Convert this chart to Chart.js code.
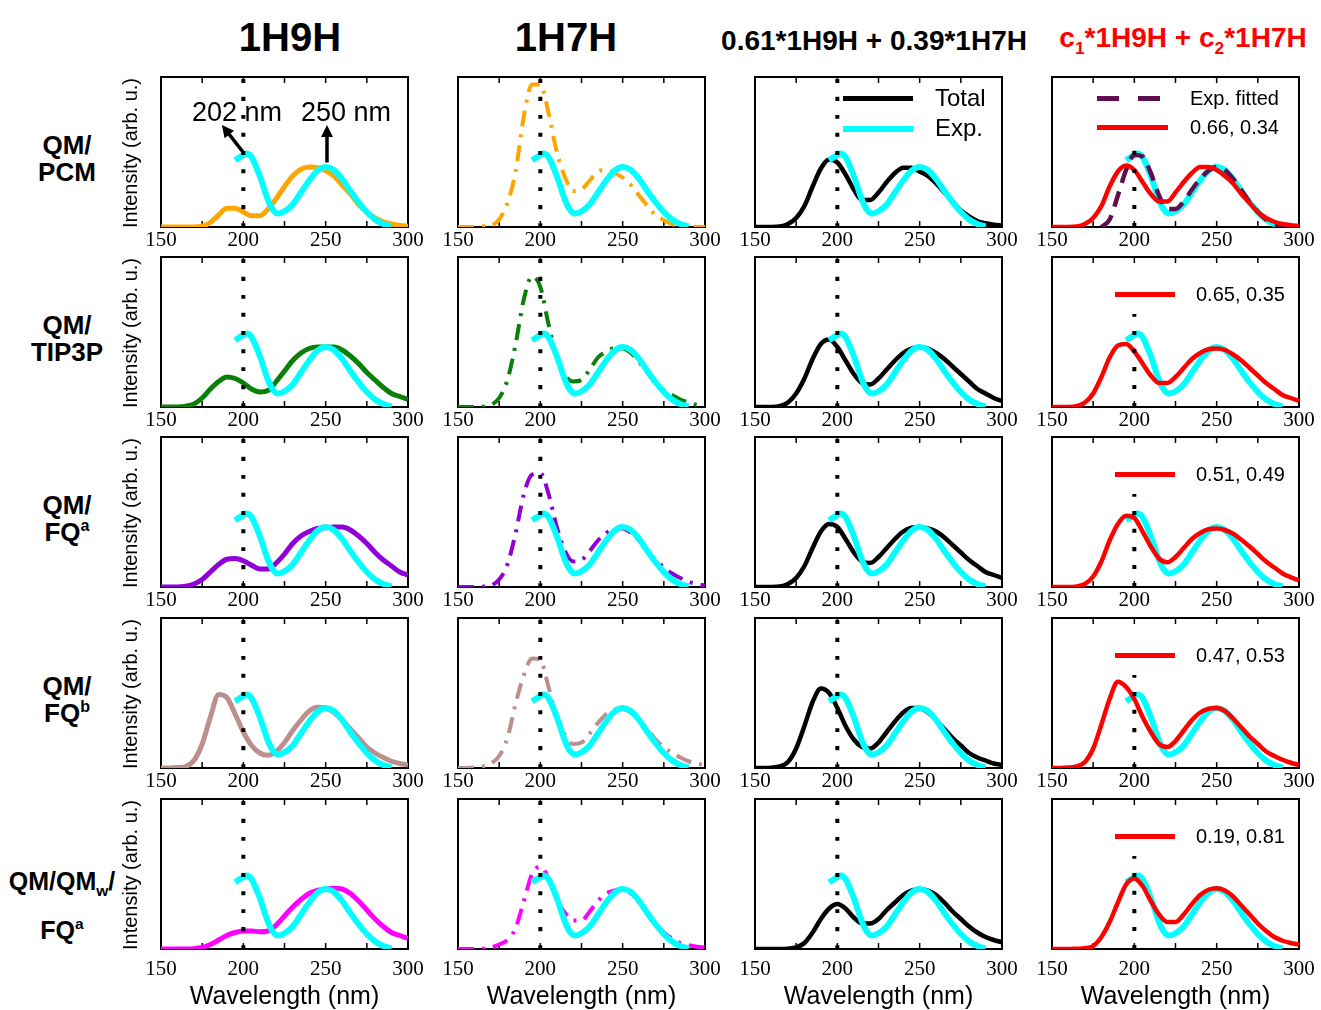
<!DOCTYPE html>
<html>
<head>
<meta charset="utf-8">
<script src="https://cdn.jsdelivr.net/npm/chart.js@4.4.0/dist/chart.umd.min.js"></script>
<style>
  body { margin: 0; background: #fff; width: 1321px; height: 1010px; position: relative; overflow: hidden;
         font-family: "Liberation Sans", Arial, sans-serif; color: #000; }
  canvas { position: absolute; }
  .t { position: absolute; white-space: nowrap; line-height: 1; }
  .c { transform: translate(-50%, -50%); }
  .l { transform: translate(0, -50%); }
  .rot { transform: translate(-50%, -50%) rotate(-90deg); }
  sub, sup { font-size: 62%; line-height: 0; }
</style>
</head>
<body>
<script>
// wavelength grid (nm) for the computed spectra
const wl = [150,155,160,165,170,175,180,185,190,195,200,205,210,215,220,225,230,235,240,245,250,255,260,265,270,275,280,285,290,295,300];

// experimental spectrum (cyan)
const expWl   = [195,200,202,205,210,215,218,221,225,230,235,240,245,250,255,260,265,270,275,280,285,290];
const expVals = [0.445,0.48,0.49,0.465,0.34,0.18,0.115,0.09,0.105,0.15,0.23,0.31,0.375,0.40,0.38,0.32,0.24,0.165,0.10,0.05,0.02,0.005];

// fitted experimental spectrum (dashed, top right panel)
const expFitWl   = [180,185,190,195,200,205,210,215,220,225,230,235,240,245,250,255,260,265,270,275,280,285,290,295];
const expFitVals = [0,0.05,0.21,0.38,0.48,0.47,0.36,0.21,0.12,0.12,0.17,0.25,0.32,0.375,0.40,0.38,0.32,0.245,0.165,0.10,0.05,0.02,0.008,0];

// 1H9H tautomer
const pcm9 = [0,0,0,0,0,0.005,0.03,0.08,0.125,0.125,0.10,0.075,0.075,0.12,0.19,0.27,0.34,0.385,0.40,0.395,0.375,0.34,0.28,0.22,0.15,0.10,0.06,0.035,0.02,0.01,0.005];
const tip9 = [0,0,0,0.005,0.02,0.06,0.12,0.17,0.20,0.19,0.16,0.12,0.10,0.11,0.17,0.24,0.31,0.36,0.39,0.40,0.40,0.40,0.38,0.34,0.29,0.23,0.18,0.13,0.09,0.07,0.05];
const fqa9 = [0,0,0,0.005,0.02,0.05,0.10,0.15,0.185,0.19,0.175,0.145,0.12,0.12,0.16,0.22,0.29,0.34,0.37,0.39,0.395,0.40,0.40,0.38,0.34,0.29,0.23,0.18,0.14,0.10,0.08];
const fqb9 = [0,0,0.003,0.01,0.05,0.16,0.34,0.49,0.47,0.36,0.24,0.15,0.10,0.085,0.11,0.17,0.25,0.32,0.38,0.405,0.40,0.37,0.32,0.26,0.20,0.14,0.10,0.07,0.045,0.03,0.02];
const qmw9 = [0,0,0,0,0.002,0.01,0.03,0.06,0.09,0.11,0.12,0.12,0.115,0.12,0.16,0.22,0.28,0.33,0.37,0.39,0.40,0.405,0.40,0.37,0.32,0.26,0.20,0.15,0.11,0.09,0.07];

// 1H7H tautomer
const pcm7 = [0,0,0,0.005,0.01,0.05,0.16,0.37,0.74,0.95,0.95,0.76,0.50,0.33,0.24,0.25,0.31,0.37,0.38,0.36,0.33,0.28,0.21,0.14,0.08,0.045,0.02,0.01,0.005,0,0];
const tip7 = [0,0,0,0.002,0.015,0.06,0.18,0.42,0.72,0.87,0.80,0.55,0.33,0.21,0.17,0.18,0.25,0.33,0.37,0.39,0.39,0.36,0.30,0.23,0.16,0.11,0.08,0.05,0.03,0.015,0.01];
const fqa7 = [0,0,0,0.002,0.01,0.05,0.15,0.36,0.62,0.75,0.76,0.62,0.40,0.24,0.17,0.18,0.24,0.31,0.36,0.39,0.39,0.36,0.31,0.24,0.18,0.13,0.09,0.06,0.035,0.02,0.01];
const fqb7 = [0,0,0.003,0.01,0.03,0.08,0.20,0.43,0.62,0.73,0.72,0.54,0.34,0.22,0.16,0.17,0.23,0.30,0.36,0.39,0.39,0.37,0.32,0.26,0.19,0.14,0.10,0.07,0.045,0.03,0.02];
const qmw7 = [0,0,0,0.002,0.01,0.03,0.06,0.14,0.32,0.50,0.55,0.47,0.33,0.24,0.19,0.19,0.25,0.32,0.37,0.39,0.40,0.37,0.31,0.24,0.17,0.11,0.07,0.04,0.025,0.015,0.01];

// 0.61*1H9H + 0.39*1H7H
const pcmMix = [0,0,0,0.003,0.02,0.06,0.14,0.27,0.39,0.45,0.43,0.35,0.25,0.18,0.18,0.23,0.30,0.36,0.395,0.395,0.37,0.34,0.29,0.23,0.17,0.11,0.07,0.04,0.025,0.015,0.01];
const tipMix = [0,0,0,0.005,0.03,0.09,0.19,0.32,0.42,0.45,0.40,0.31,0.22,0.16,0.15,0.19,0.25,0.31,0.36,0.39,0.40,0.39,0.36,0.32,0.27,0.22,0.17,0.12,0.09,0.06,0.04];
const fqaMix = [0,0,0,0.003,0.02,0.06,0.14,0.26,0.37,0.42,0.40,0.32,0.23,0.17,0.16,0.20,0.26,0.32,0.37,0.395,0.40,0.39,0.37,0.33,0.28,0.23,0.18,0.14,0.10,0.08,0.06];
const fqbMix = [0,0,0.002,0.01,0.04,0.13,0.28,0.44,0.53,0.50,0.40,0.28,0.19,0.14,0.13,0.17,0.24,0.31,0.37,0.40,0.40,0.37,0.32,0.26,0.20,0.15,0.10,0.07,0.05,0.03,0.02];
const qmwMix = [0,0,0,0,0.002,0.01,0.04,0.11,0.20,0.27,0.30,0.27,0.21,0.17,0.17,0.20,0.26,0.31,0.36,0.39,0.40,0.39,0.36,0.31,0.25,0.20,0.15,0.11,0.08,0.06,0.045];

// c1*1H9H + c2*1H7H fits
const pcmFit = [0,0,0,0.003,0.02,0.06,0.14,0.27,0.37,0.41,0.38,0.30,0.22,0.17,0.17,0.23,0.30,0.36,0.40,0.40,0.38,0.34,0.29,0.22,0.16,0.10,0.06,0.035,0.02,0.012,0.008];
const tipFit = [0,0,0,0.005,0.03,0.09,0.20,0.33,0.41,0.42,0.37,0.29,0.21,0.16,0.16,0.20,0.26,0.32,0.36,0.385,0.39,0.38,0.35,0.31,0.26,0.21,0.16,0.12,0.08,0.06,0.04];
const fqaFit = [0,0,0,0.004,0.02,0.07,0.17,0.31,0.42,0.475,0.46,0.37,0.27,0.19,0.165,0.20,0.26,0.32,0.36,0.385,0.39,0.38,0.355,0.315,0.27,0.22,0.17,0.13,0.09,0.065,0.045];
const fqbFit = [0,0,0.003,0.01,0.04,0.13,0.29,0.46,0.575,0.54,0.46,0.34,0.24,0.16,0.14,0.18,0.25,0.32,0.37,0.395,0.40,0.38,0.33,0.27,0.21,0.16,0.11,0.08,0.055,0.035,0.02];
const qmwFit = [0,0,0,0.002,0.005,0.02,0.08,0.18,0.31,0.43,0.47,0.42,0.32,0.23,0.18,0.18,0.23,0.30,0.36,0.395,0.405,0.39,0.35,0.29,0.23,0.17,0.12,0.08,0.055,0.04,0.03];

const fitCoefs = ['0.66, 0.34', '0.65, 0.35', '0.51, 0.49', '0.47, 0.53', '0.19, 0.81'];
const xTicks = [150, 200, 250, 300];
const markerWl = 200;

const col9 = [pcm9, tip9, fqa9, fqb9, qmw9];
const col7 = [pcm7, tip7, fqa7, fqb7, qmw7];
const colMix = [pcmMix, tipMix, fqaMix, fqbMix, qmwMix];
const colFit = [pcmFit, tipFit, fqaFit, fqbFit, qmwFit];
const rowColors = ['#ffa500', '#0a800a', '#9000d8', '#bc8f8f', '#ff00ff'];

// layout
const colLeft = [161, 458, 755, 1052];
const rowTop = [77, 257, 437, 618, 799];
const W = 247, H = 150, PAD = 24, TOP = 5;

function pts(xs, ys) { return xs.map((x, i) => ({ x: x, y: ys[i] })); }

const frame = {
  id: 'frame',
  beforeDatasetsDraw(chart) {
    const { ctx, chartArea: a, scales: { x } } = chart;
    ctx.save();
    ctx.strokeStyle = '#000';
    ctx.lineWidth = 2;
    ctx.strokeRect(a.left, a.top, a.right - a.left, a.bottom - a.top);
    ctx.lineWidth = 1.5;
    ctx.beginPath();
    for (let v = 175; v < 300; v += 25) {
      const px = x.getPixelForValue(v);
      ctx.moveTo(px, a.bottom); ctx.lineTo(px, a.bottom - 6);
      ctx.moveTo(px, a.top); ctx.lineTo(px, a.top + 6);
    }
    ctx.stroke();
    ctx.restore();
  }
};

const arrows = {
  id: 'arrows',
  afterDatasetsDraw(chart) {
    const { ctx, scales: { x, y } } = chart;
    const draw = (x0, y0, x1, y1) => {
      const X0 = x.getPixelForValue(x0), Y0 = y.getPixelForValue(y0);
      const X1 = x.getPixelForValue(x1), Y1 = y.getPixelForValue(y1);
      const ang = Math.atan2(Y1 - Y0, X1 - X0);
      ctx.beginPath();
      ctx.moveTo(X0, Y0);
      ctx.lineTo(X1 - 8 * Math.cos(ang), Y1 - 8 * Math.sin(ang));
      ctx.stroke();
      ctx.beginPath();
      ctx.moveTo(X1, Y1);
      ctx.lineTo(X1 - 12 * Math.cos(ang) + 6 * Math.sin(ang), Y1 - 12 * Math.sin(ang) - 6 * Math.cos(ang));
      ctx.lineTo(X1 - 12 * Math.cos(ang) - 6 * Math.sin(ang), Y1 - 12 * Math.sin(ang) + 6 * Math.cos(ang));
      ctx.closePath();
      ctx.fill();
    };
    ctx.save();
    ctx.strokeStyle = '#000'; ctx.fillStyle = '#000'; ctx.lineWidth = 3.5;
    draw(199.8, 0.50, 187, 0.68);
    draw(250.8, 0.43, 250.8, 0.68);
    ctx.restore();
  }
};

function lineDs(xs, ys, color, width, dash, order) {
  return {
    data: pts(xs, ys), borderColor: color, borderWidth: width, borderDash: dash || [],
    pointRadius: 0, fill: false, cubicInterpolationMode: 'monotone', order: order,
    borderCapStyle: 'butt', borderJoinStyle: 'round'
  };
}

function makePanel(r, c) {
  const last = r === 4;
  const axisH = last ? 32 : 24;
  const cv = document.createElement('canvas');
  cv.width = W + 2 * PAD; cv.height = TOP + H + axisH;
  cv.style.left = (colLeft[c] - PAD) + 'px';
  cv.style.top = (rowTop[r] - TOP) + 'px';
  document.body.appendChild(cv);

  const ds = [];
  const dotTop = c === 3 ? (r === 0 ? 0.52 : 0.62) : 1;
  ds.push(lineDs([markerWl, markerWl], [0, dotTop], '#000', 4, [4, 14], 0));
  ds.push(lineDs(expWl, expVals, '#00ffff', 6, [], 3));
  if (c === 0) ds.push(lineDs(wl, col9[r], rowColors[r], 5, [], 4));
  if (c === 1) ds.push(lineDs(wl, col7[r], rowColors[r], 4, [16, 8, 3, 8], 4));
  if (c === 2) ds.push(lineDs(wl, colMix[r], '#000', 4.5, [], 4));
  if (c === 3) {
    if (r === 0) ds.push(lineDs(expFitWl, expFitVals, '#5f0f4f', 4.5, [16, 9], 2));
    ds.push(lineDs(wl, colFit[r], '#ff0000', 4.5, [], 1));
  }

  new Chart(cv, {
    type: 'line',
    data: { datasets: ds },
    options: {
      responsive: false, animation: false, devicePixelRatio: 1,
      layout: { padding: { left: PAD, right: PAD, top: TOP, bottom: 0 } },
      plugins: { legend: { display: false }, tooltip: { enabled: false } },
      scales: {
        x: {
          type: 'linear', min: 150, max: 300,
          grid: { display: false, drawTicks: false }, border: { display: false },
          afterBuildTicks(s) { s.ticks = xTicks.map(v => ({ value: v })); },
          afterFit(s) { s.height = axisH; },
          ticks: { autoSkip: false, maxRotation: 0, padding: last ? 8 : 1, color: '#000',
                   font: { family: '"Liberation Serif", "Times New Roman", serif', size: 21 } }
        },
        y: { display: false, min: 0, max: 1 }
      }
    },
    plugins: (r === 0 && c === 0) ? [frame, arrows] : [frame]
  });
}

for (let r = 0; r < 5; r++) for (let c = 0; c < 4; c++) makePanel(r, c);

// text
function txt(html, x, y, cls, style) {
  const d = document.createElement('div');
  d.className = 't ' + cls;
  d.innerHTML = html;
  d.style.left = x + 'px'; d.style.top = y + 'px';
  Object.assign(d.style, style || {});
  document.body.appendChild(d);
  return d;
}

txt('1H9H', 290, 37, 'c', { fontWeight: 'bold', fontSize: '40px' });
txt('1H7H', 566, 37, 'c', { fontWeight: 'bold', fontSize: '40px' });
txt('0.61*1H9H + 0.39*1H7H', 874, 41, 'c', { fontWeight: 'bold', fontSize: '28px' });
txt('c<sub>1</sub>*1H9H + c<sub>2</sub>*1H7H', 1183, 38, 'c', { fontWeight: 'bold', fontSize: '28px', color: '#ff0000' });

const rowLabels = [
  ['QM/', 'PCM'], ['QM/', 'TIP3P'], ['QM/', 'FQ<sup>a</sup>'], ['QM/', 'FQ<sup>b</sup>']
];
rowLabels.forEach((lb, r) => {
  const cy = rowTop[r] + 68;
  txt(lb[0], 67, cy, 'c', { fontWeight: 'bold', fontSize: '26px' });
  txt(lb[1], 67, cy + 27, 'c', { fontWeight: 'bold', fontSize: '26px' });
});
txt('QM/QM<sub>w</sub>/', 62, 881, 'c', { fontWeight: 'bold', fontSize: '25px' });
txt('FQ<sup>a</sup>', 62, 930, 'c', { fontWeight: 'bold', fontSize: '25px' });

rowTop.forEach(t => txt('Intensity (arb. u.)', 130, t + 76, 'rot', { fontSize: '20px' }));
colLeft.forEach(l => txt('Wavelength (nm)', l + W / 2, 995, 'c', { fontSize: '25px' }));

// annotations in the top-left panel
txt('202 nm', 237, 112, 'c', { fontSize: '27px' });
txt('250 nm', 346, 112, 'c', { fontSize: '27px' });

// legend, column 3
function bar(x, y, w, h, color) {
  const d = document.createElement('div');
  Object.assign(d.style, { position: 'absolute', left: x + 'px', top: (y - h / 2) + 'px', width: w + 'px', height: h + 'px', background: color });
  document.body.appendChild(d);
}
bar(843, 98, 70, 5, '#000');
bar(843, 129, 70, 6, '#00ffff');
txt('Total', 935, 98, 'l', { fontSize: '24px' });
txt('Exp.', 935, 128, 'l', { fontSize: '24px' });

// legends, column 4
bar(1097, 98, 22, 5, '#5f0f4f');
bar(1138, 98, 22, 5, '#5f0f4f');
bar(1097, 127, 71, 5, '#ff0000');
txt('Exp. fitted', 1190, 98, 'l', { fontSize: '20px' });
txt(fitCoefs[0], 1190, 127, 'l', { fontSize: '20px' });
for (let r = 1; r < 5; r++) {
  bar(1115, rowTop[r] + 37, 60, 5, '#ff0000');
  txt(fitCoefs[r], 1196, rowTop[r] + 37, 'l', { fontSize: '20px' });
}
</script>
</body>
</html>
